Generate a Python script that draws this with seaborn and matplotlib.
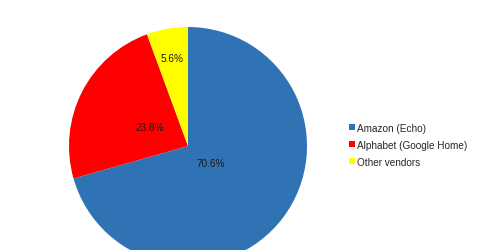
import matplotlib
matplotlib.use("Agg")
import matplotlib.pyplot as plt
import seaborn as sns
import numpy as np

categories = ["Amazon (Echo)", "Alphabet (Google Home)", "Other vendors"]
shares = [70.6, 23.8, 5.6]
pct_labels = ["70.6%", "23.8%", "5.6%"]

sns.set_theme(style="white")
plt.rcParams["font.family"] = ["Liberation Sans", "DejaVu Sans"]

colors = sns.color_palette(["#2F73B5", "#FF0000", "#FFFF00"])

fig = plt.figure(figsize=(4.8, 2.51), dpi=100)
ax = fig.add_axes([0, 0, 1, 1])
ax.set_axis_off()

r_px = 119.0
cx, cy_top = 188.0, 147.0
W, H = 480.0, 251.0

wedges, _ = ax.pie(shares, colors=colors, startangle=90, counterclock=False,
                   radius=1.0, wedgeprops=dict(linewidth=0))
ax.set_aspect("auto")
ax.set_xlim(-cx / r_px, (W - cx) / r_px)
ax.set_ylim(-(H - cy_top) / r_px, cy_top / r_px)

label_dist = [0.24, 0.36, 0.75]
for w, lab, d in zip(wedges, pct_labels, label_dist):
    ang = np.deg2rad((w.theta1 + w.theta2) / 2)
    ax.text(d * np.cos(ang), d * np.sin(ang), lab, ha="center", va="center",
            fontsize=7.2, color="#1a1a1a")

fig.legend(wedges, categories, loc="upper left", bbox_to_anchor=(349 / W, 1 - 124 / H),
           frameon=False, fontsize=7.2, handlelength=0.55, handleheight=0.55,
           handletextpad=0.25, labelspacing=0.7, borderaxespad=0, borderpad=0)

fig.savefig("out.png", dpi=100)
